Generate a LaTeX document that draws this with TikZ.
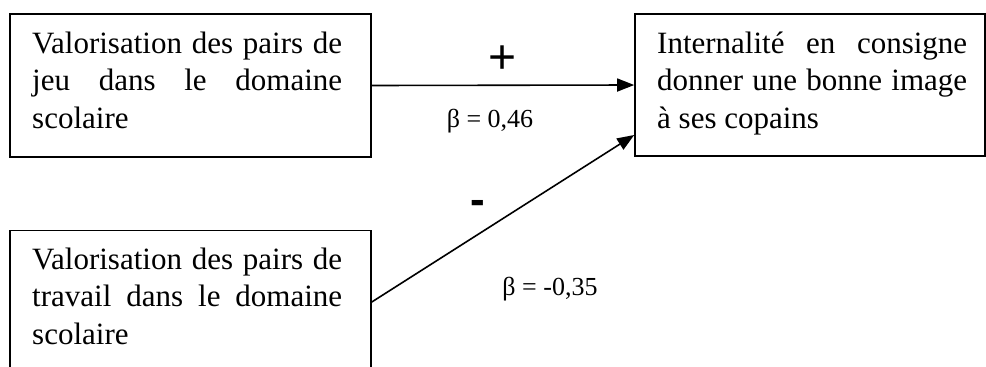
\documentclass[tikz,border=0pt]{standalone}
\usepackage{fontspec}
\setmainfont{Liberation Serif}
\newfontfamily\labsans{Liberation Sans}
\usetikzlibrary{arrows.meta}
\begin{document}
\begin{tikzpicture}[x=1pt,y=-1pt,
  boxnode/.style={draw,line width=1.6pt,minimum width=361pt,minimum height=143pt,inner sep=0pt},
  boxtext/.style={anchor=base west,inner sep=0pt,font=\fontsize{31}{37.5}\selectfont},
  arr/.style={line width=1.6pt,-{Triangle[length=17pt,width=13pt]}},
  betalab/.style={anchor=base,inner sep=0pt,font=\fontsize{26}{30}\selectfont},
  signlab/.style={anchor=base,inner sep=0pt,font=\labsans\fontsize{48}{54}\selectfont}]
\clip (0,0) rectangle (986,367);
\useasboundingbox (0,0) rectangle (986,367);
\fill[white] (0,0) rectangle (986,367);
\node[boxnode] (A) at (190.5,85.5) {};
\node[boxnode] (B) at (190.5,302) {};
\node[boxnode,minimum width=350pt,minimum height=142pt] (C) at (810,85) {};
\node[boxtext] (At) at (32,53) {\parbox[t]{310pt}{\makebox[310pt][s]{Valorisation des pairs de}\\\makebox[310pt][s]{jeu dans le domaine}\\scolaire}};
\node[boxtext] (Bt) at (32,269) {\parbox[t]{310pt}{\makebox[310pt][s]{Valorisation des pairs de}\\\makebox[310pt][s]{travail dans le domaine}\\scolaire}};
\node[boxtext] (Ct) at (657,53) {\parbox[t]{310pt}{\makebox[310pt][s]{Internalité en consigne}\\\makebox[310pt][s]{donner une bonne image}\\à ses copains}};
\draw[arr] (A.east) -- (C.west);
\draw[arr] (B.east) -- ([yshift=-50pt]C.west);
\node[signlab] (plus) at (502.5,73) {+};
\node[betalab] (b1) at (490,127) {β = 0,46};
\node[signlab,font=\labsans\bfseries\fontsize{44}{50}\selectfont] (minus) at (478,214) {-};
\node[betalab] (b2) at (550,295) {β = -0,35};
\end{tikzpicture}
\end{document}
